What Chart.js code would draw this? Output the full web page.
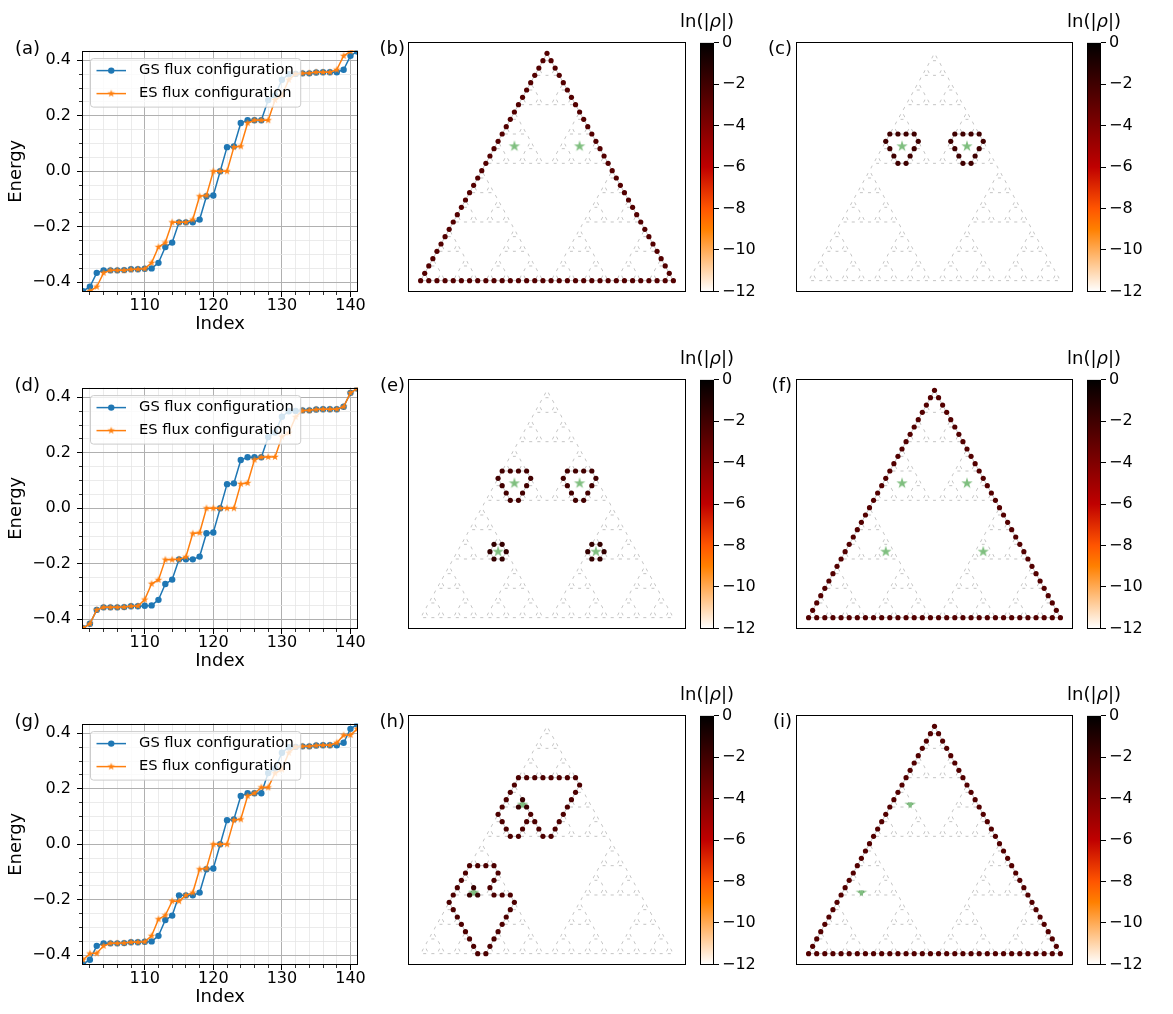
<!DOCTYPE html>
<html>
<head>
<meta charset="utf-8">
<script src="https://cdn.jsdelivr.net/npm/chart.js@4.4.1/dist/chart.umd.min.js"></script>
<style>
  html, body { margin: 0; padding: 0; background: #fff; }
  body { width: 1173px; height: 1014px; position: relative; overflow: hidden; font-family: "DejaVu Sans", sans-serif; }
  canvas { position: absolute; }
  .lbl { position: absolute; font-size: 18px; line-height: 18px; color: #000; white-space: nowrap; }
  .lbl i { font-style: italic; }
</style>
</head>
<body>
<script>
// ---------------- spectra (energy levels around zero) ----------------
const INDEX = [101,102,103,104,105,106,107,108,109,110,111,112,113,114,115,116,117,118,119,120,
               121,122,123,124,125,126,127,128,129,130,131,132,133,134,135,136,137,138,139,140,141];
const GS_ENERGY = [-0.432,-0.416,-0.366,-0.357,-0.357,-0.357,-0.356,-0.353,-0.353,-0.351,
                   -0.350,-0.330,-0.273,-0.257,-0.184,-0.184,-0.184,-0.174,-0.090,-0.087,
                    0.000, 0.087, 0.090, 0.174, 0.184, 0.184, 0.184, 0.257, 0.273, 0.330,
                    0.350, 0.351, 0.353, 0.353, 0.356, 0.357, 0.357, 0.357, 0.366, 0.416, 0.432];
const ES_ENERGY_A = [-0.445,-0.432,-0.416,-0.366,-0.357,-0.357,-0.357,-0.354,-0.353,-0.351,
                     -0.330,-0.273,-0.257,-0.184,-0.184,-0.184,-0.174,-0.090,-0.087, 0.000,
                      0.000, 0.000, 0.087, 0.090, 0.174, 0.184, 0.184, 0.184, 0.257, 0.273,
                      0.330, 0.351, 0.353, 0.354, 0.357, 0.357, 0.357, 0.366, 0.416, 0.432, 0.445];
const ES_ENERGY_D = [-0.432,-0.416,-0.366,-0.357,-0.357,-0.357,-0.356,-0.353,-0.352,-0.329,
                     -0.272,-0.258,-0.185,-0.185,-0.184,-0.175,-0.091,-0.088, 0.000, 0.000,
                      0.000, 0.000, 0.000, 0.088, 0.091, 0.175, 0.184, 0.185, 0.185, 0.258,
                      0.272, 0.329, 0.352, 0.353, 0.356, 0.357, 0.357, 0.357, 0.366, 0.416, 0.432];
const ES_ENERGY_G = [-0.416,-0.394,-0.393,-0.366,-0.357,-0.357,-0.356,-0.353,-0.353,-0.351,
                     -0.330,-0.270,-0.256,-0.205,-0.205,-0.184,-0.174,-0.090,-0.087, 0.000,
                      0.000, 0.000, 0.087, 0.090, 0.174, 0.184, 0.205, 0.205, 0.256, 0.270,
                      0.330, 0.351, 0.353, 0.353, 0.356, 0.357, 0.357, 0.366, 0.393, 0.394, 0.416];
const SERIES_LABELS = ['GS flux configuration', 'ES flux configuration'];
const X_RANGE = [100.85, 141.1];
const Y_RANGE = [-0.435, 0.435];
const X_MAJOR = [110, 120, 130, 140];
const X_MINOR = [102,104,106,108,112,114,116,118,122,124,126,128,132,134,136,138];
const Y_MAJOR = [-0.4, -0.2, 0, 0.2, 0.4];
const Y_MINOR = [-0.35,-0.3,-0.25,-0.15,-0.1,-0.05,0.05,0.1,0.15,0.25,0.3,0.35];

// ---------------- densities ln(|rho|) on the level-5 Sierpinski (Hanoi) lattice ----------------
// sites are given as (x, row); flux positions are plaquette centres in the same units
const LN_FLOOR = -12;
const CB_MIN = -12, CB_MAX = 0;
const CB_TICKS = [0, -2, -4, -6, -8, -10, -12];

const FLUX_BC = [[11.5, 18.33], [19.5, 18.33]];
const FLUX_EF = [[11.5, 18.33], [19.5, 18.33], [9.5, 9], [21.5, 9]];
const FLUX_HI = [[12.5, 20.33], [6.5, 8.33]];

const RINGS_LARGE = [[11,16],[10.5,17],[10,18],[9.5,19],[12,16],[12.5,17],[13,18],[13.5,19],[10,20],[11,20],[12,20],[13,20],
                     [19,16],[18.5,17],[18,18],[17.5,19],[20,16],[20.5,17],[21,18],[21.5,19],[18,20],[19,20],[20,20],[21,20]];
const RINGS_SMALL = [[9,8],[8.5,9],[10,8],[10.5,9],[9,10],[10,10],
                     [21,8],[20.5,9],[22,8],[22.5,9],[21,10],[22,10]];
const LOOPS_H = [[12,24],[13,24],[14,24],[15,24],[16,24],[17,24],[18,24],[19,24],
                 [19.5,23],[19,22],[18.5,21],[18,20],[17.5,19],[17,18],[16.5,17],[16,16],
                 [15,16],[14.5,17],[14,18],[13.5,19],[13,18],[12.5,17],[12,16],
                 [11,16],[10.5,17],[10,18],[9.5,19],[10,20],[10.5,21],[11,22],[11.5,23],
                 [6,12],[7,12],[8,12],[9,12],[9.5,11],[9,10],[8.5,9],[9,8],[10,8],[11,8],
                 [11.5,7],[11,6],[10.5,5],[10,4],[9.5,3],[9,2],[8.5,1],[8,0],
                 [7,0],[6.5,1],[6,2],[5.5,3],[5,4],[4.5,5],[4,6],[3.5,7],
                 [4,8],[4.5,9],[5,10],[5.5,11]];
const CORES_H = [[12,20],[13,20],[12.5,21],[6,8],[7,8],[6.5,9]];

const LNRHO_EDGE_B = -2.6;
const LNRHO_RING_C = -2.0;
const LNRHO_RING_E = -2.1, LNRHO_SMALL_E = -1.6;
const LNRHO_EDGE_F = -2.6;
const LNRHO_LOOP_H = -2.4, LNRHO_CORE_H = -1.8;
const LNRHO_EDGE_I = -2.6;

// ---------------- page layout ----------------
const ROW_TOP = [42, 379, 715];
const BOX_H = 250;
const LINE_LEFT = 82, LINE_W = 279;
const MAP_LEFT = [408, 796], MAP_W = [278, 277];
const CB_LEFT = [700, 1087], CB_W = 14;
const LABEL_RIGHT = [40, 405, 792];
const MAP_RANGE = [-1.55, 32.55];

const BLUE = '#1f77b4', ORANGE = '#ff7f0e';
const GRID_MAJOR = '#b0b0b0', GRID_MINOR = '#e6e6e6';
const BOND_COLOR = '#c4c4c4';
const FONT = '"DejaVu Sans", sans-serif';

Chart.defaults.font.family = FONT;
Chart.defaults.color = '#000';
Chart.defaults.animation = false;

const minus = s => String(s).replace('-', '\u2212');

function addCanvas(left, top, w, h) {
  const c = document.createElement('canvas');
  c.width = w; c.height = h;
  c.style.left = left + 'px'; c.style.top = top + 'px';
  c.style.width = w + 'px'; c.style.height = h + 'px';
  document.body.appendChild(c);
  return c;
}
function addText(html, css) {
  const d = document.createElement('div');
  d.className = 'lbl';
  d.innerHTML = html;
  Object.assign(d.style, css);
  document.body.appendChild(d);
}
function starSprite(outerR, fill) {
  const s = Math.ceil(outerR * 2) + 2;
  const c = document.createElement('canvas');
  c.width = c.height = s;
  const g = c.getContext('2d');
  g.beginPath();
  for (let i = 0; i < 10; i++) {
    const r = i % 2 ? outerR * 0.382 : outerR;
    const a = -Math.PI / 2 + i * Math.PI / 5;
    g.lineTo(s / 2 + r * Math.cos(a), s / 2 + r * Math.sin(a));
  }
  g.closePath();
  g.fillStyle = fill;
  g.fill();
  return c;
}
const STAR_ORANGE = starSprite(4, ORANGE);
const STAR_GREEN = starSprite(6, 'rgba(0,128,0,0.5)');

// reversed "gist_heat" colour map on [CB_MIN, CB_MAX]
function heatRGB(v) {
  let t = (v - CB_MIN) / (CB_MAX - CB_MIN);
  t = Math.min(1, Math.max(0, t));
  const x = 1 - t;
  const r = Math.min(1, 1.5 * x), g = Math.min(1, Math.max(0, 2 * x - 1)), b = Math.min(1, Math.max(0, 4 * x - 3));
  return 'rgb(' + Math.round(r * 255) + ',' + Math.round(g * 255) + ',' + Math.round(b * 255) + ')';
}
// values where the colour map changes slope
const CMAP_KNOTS = [-12, -9, -8, -6, 0];

// ---------------- lattice ----------------
function buildHanoi(level) {
  const sites = [], index = new Map(), bonds = [];
  const key = (x, r) => (2 * x) + ':' + r;
  const site = (x, r) => {
    const k = key(x, r);
    if (!index.has(k)) { index.set(k, sites.length); sites.push({ x, r }); }
    return index.get(k);
  };
  function build(n, x0, r0) {
    if (n === 1) {
      const a = site(x0, r0), b = site(x0 + 1, r0), c = site(x0 + 0.5, r0 + 1);
      bonds.push([a, b], [b, c], [c, a]);
      return;
    }
    const L = Math.pow(2, n - 1) - 1, s = L + 1;
    build(n - 1, x0, r0);
    build(n - 1, x0 + s, r0);
    build(n - 1, x0 + s / 2, r0 + s);
    bonds.push([site(x0 + L, r0), site(x0 + s, r0)]);
    bonds.push([site(x0 + L / 2, r0 + L), site(x0 + s / 2, r0 + s)]);
    bonds.push([site(x0 + s + L / 2, r0 + L), site(x0 + s / 2 + L, r0 + s)]);
  }
  build(level, 0, 0);
  const side = Math.pow(2, level) - 1;
  return {
    sites, bonds, side,
    find: (x, r) => { const i = index.get(key(x, r)); return i === undefined ? -1 : i; }
  };
}
const LATTICE = buildHanoi(5);
const OUTER_EDGE = LATTICE.sites
  .filter(s => s.r === 0 || 2 * s.x === s.r || 2 * s.x === 2 * LATTICE.side - s.r)
  .map(s => [s.x, s.r]);

// ---------------- plugins ----------------
const framePlugin = {
  id: 'frame',
  afterDraw(chart) {
    const { ctx, chartArea: a } = chart;
    ctx.save();
    ctx.strokeStyle = '#000';
    ctx.lineWidth = 1;
    ctx.strokeRect(Math.round(a.left) + 0.5, Math.round(a.top) + 0.5,
                   Math.round(a.right - a.left) - 1, Math.round(a.bottom - a.top) - 1);
    ctx.restore();
  }
};
const tickMarksPlugin = {
  id: 'tickMarks',
  afterDraw(chart) {
    const { ctx, chartArea: a, scales } = chart;
    const al = p => Math.round(p - 0.5) + 0.5;
    ctx.save();
    ctx.strokeStyle = '#000';
    const xm = (list, len, w) => list.forEach(v => {
      const p = al(scales.x.getPixelForValue(v));
      ctx.lineWidth = w; ctx.beginPath(); ctx.moveTo(p, a.bottom); ctx.lineTo(p, a.bottom + len); ctx.stroke();
    });
    const ym = (list, len, w) => list.forEach(v => {
      const p = al(scales.y.getPixelForValue(v));
      ctx.lineWidth = w; ctx.beginPath(); ctx.moveTo(a.left, p); ctx.lineTo(a.left - len, p); ctx.stroke();
    });
    xm(X_MAJOR, 5, 1); xm(X_MINOR, 3, 0.8);
    ym(Y_MAJOR, 5, 1); ym(Y_MINOR, 3, 0.8);
    ctx.restore();
  }
};
const energyLegendPlugin = {
  id: 'energyLegend',
  afterDatasetsDraw(chart) {
    const { ctx, chartArea: a } = chart;
    const items = [
      { label: SERIES_LABELS[0], color: BLUE, marker: 'circle' },
      { label: SERIES_LABELS[1], color: ORANGE, marker: 'star' }
    ];
    ctx.save();
    ctx.font = '14.7px ' + FONT;
    const tw = Math.max(...items.map(it => ctx.measureText(it.label).width));
    const bx = a.left + 8.5, by = a.top + 8, tx = a.left + 57;
    const bw = tx + tw + 7 - bx, bh = 48.5, rr = 3;
    ctx.beginPath();
    ctx.moveTo(bx + rr, by);
    ctx.arcTo(bx + bw, by, bx + bw, by + bh, rr);
    ctx.arcTo(bx + bw, by + bh, bx, by + bh, rr);
    ctx.arcTo(bx, by + bh, bx, by, rr);
    ctx.arcTo(bx, by, bx + bw, by, rr);
    ctx.closePath();
    ctx.fillStyle = 'rgba(255,255,255,0.8)';
    ctx.fill();
    ctx.strokeStyle = '#cccccc';
    ctx.lineWidth = 1;
    ctx.stroke();
    items.forEach((it, k) => {
      const cy = a.top + 20 + 23 * k;
      const x1 = a.left + 14.5, x2 = a.left + 44, xc = (x1 + x2) / 2;
      ctx.strokeStyle = it.color; ctx.lineWidth = 1.5;
      ctx.beginPath(); ctx.moveTo(x1, cy); ctx.lineTo(x2, cy); ctx.stroke();
      if (it.marker === 'circle') {
        ctx.fillStyle = it.color; ctx.beginPath(); ctx.arc(xc, cy, 3.2, 0, Math.PI * 2); ctx.fill();
      } else {
        ctx.drawImage(STAR_ORANGE, xc - STAR_ORANGE.width / 2, cy - STAR_ORANGE.height / 2);
      }
      ctx.fillStyle = '#000';
      ctx.textBaseline = 'middle';
      ctx.textAlign = 'left';
      ctx.fillText(it.label, tx, cy);
    });
    ctx.restore();
  }
};

// ---------------- charts ----------------
const xy = (xs, ys) => xs.map((x, i) => ({ x, y: ys[i] }));

function energyChart(row, esValues) {
  const top = ROW_TOP[row];
  const padTop = 12, axisH = 46, canvasW = 370;
  const cv = addCanvas(0, top - padTop, canvasW, padTop + BOX_H + axisH);
  const xTicks = X_MAJOR.concat(X_MINOR).sort((p, q) => p - q);
  const yTicks = Y_MAJOR.concat(Y_MINOR).sort((p, q) => p - q);
  new Chart(cv, {
    type: 'line',
    data: {
      datasets: [
        { label: SERIES_LABELS[1], data: xy(INDEX, esValues), borderColor: ORANGE, backgroundColor: ORANGE,
          borderWidth: 1.5, pointStyle: STAR_ORANGE, pointRadius: 3, order: 0, clip: 0 },
        { label: SERIES_LABELS[0], data: xy(INDEX, GS_ENERGY), borderColor: BLUE, backgroundColor: BLUE,
          borderWidth: 1.5, pointStyle: 'circle', pointRadius: 3.2, pointBorderWidth: 0,
          pointBackgroundColor: BLUE, order: 1, clip: 0 }
      ]
    },
    options: {
      responsive: false, animation: false, events: [],
      layout: { autoPadding: false, padding: { left: 0, top: padTop, right: canvasW - LINE_LEFT - LINE_W, bottom: 0 } },
      plugins: { legend: { display: false }, tooltip: { enabled: false } },
      scales: {
        x: {
          type: 'linear', min: X_RANGE[0], max: X_RANGE[1],
          afterFit: s => { s.height = axisH; },
          afterBuildTicks: s => { s.ticks = xTicks.map(v => ({ value: v })); },
          grid: { color: c => (c.tick && X_MAJOR.includes(c.tick.value)) ? GRID_MAJOR : GRID_MINOR,
                  lineWidth: c => (c.tick && X_MAJOR.includes(c.tick.value)) ? 1 : 0.8, drawTicks: false },
          border: { display: false },
          ticks: { autoSkip: false, maxRotation: 0, minRotation: 0, padding: 4, color: '#000', font: { size: 16 },
                   callback: v => X_MAJOR.includes(v) ? String(v) : '' },
          title: { display: true, text: 'Index', color: '#000', font: { size: 18 }, padding: { top: 0, bottom: 3 } }
        },
        y: {
          type: 'linear', min: Y_RANGE[0], max: Y_RANGE[1],
          afterFit: s => { s.width = LINE_LEFT; },
          afterBuildTicks: s => { s.ticks = yTicks.map(v => ({ value: v })); },
          grid: { color: c => (c.tick && Y_MAJOR.includes(c.tick.value)) ? GRID_MAJOR : GRID_MINOR,
                  lineWidth: c => (c.tick && Y_MAJOR.includes(c.tick.value)) ? 1 : 0.8, drawTicks: false },
          border: { display: false },
          ticks: { autoSkip: false, padding: 11, color: '#000', font: { size: 16 },
                   callback: v => Y_MAJOR.includes(v) ? minus(v.toFixed(1)) : '' },
          title: { display: true, text: 'Energy', color: '#000', font: { size: 18 }, padding: { top: 6, bottom: 0 } }
        }
      }
    },
    plugins: [framePlugin, tickMarksPlugin, energyLegendPlugin]
  });
}

function latticeChart(row, col, groups, flux) {
  const left = MAP_LEFT[col], top = ROW_TOP[row], w = MAP_W[col];
  const cv = addCanvas(left - 2, top - 2, w + 4, BOX_H + 4);
  const lnRho = LATTICE.sites.map(() => LN_FLOOR);
  groups.forEach(([list, value]) => list.forEach(([x, r]) => {
    const i = LATTICE.find(x, r);
    if (i >= 0) lnRho[i] = value; else console.warn('no site at', x, r);
  }));
  const bondData = [];
  LATTICE.bonds.forEach(([a, b]) => {
    const p = LATTICE.sites[a], q = LATTICE.sites[b];
    bondData.push({ x: p.x, y: p.r }, { x: q.x, y: q.r }, { x: NaN, y: NaN });
  });
  new Chart(cv, {
    type: 'scatter',
    data: {
      datasets: [
        { data: LATTICE.sites.map(s => ({ x: s.x, y: s.r })), pointRadius: 2.6, pointBorderWidth: 0,
          pointBackgroundColor: lnRho.map(heatRGB), order: 0 },
        { data: flux.map(([x, r]) => ({ x, y: r })), pointStyle: STAR_GREEN, pointRadius: 4, order: 1 },
        { data: bondData, showLine: true, pointRadius: 0, borderColor: BOND_COLOR, borderWidth: 1,
          spanGaps: false, order: 2 }
      ]
    },
    options: {
      responsive: false, animation: false, events: [],
      layout: { autoPadding: false, padding: 2 },
      plugins: { legend: { display: false }, tooltip: { enabled: false } },
      scales: {
        x: { type: 'linear', display: false, min: MAP_RANGE[0], max: MAP_RANGE[1] },
        y: { type: 'linear', display: false, min: MAP_RANGE[0], max: MAP_RANGE[1] }
      }
    },
    plugins: [framePlugin]
  });
}

function heatGradient(c) {
  const ca = c.chart.chartArea;
  if (!ca) return '#000';
  const g = c.chart.ctx.createLinearGradient(0, ca.bottom, 0, ca.top);
  CMAP_KNOTS.forEach(v => g.addColorStop((v - CB_MIN) / (CB_MAX - CB_MIN), heatRGB(v)));
  return g;
}

function colorbarChart(row, col) {
  const left = CB_LEFT[col], top = ROW_TOP[row];
  const padV = 12, cw = 64;
  const cv = addCanvas(left - 2, top - padV, cw, BOX_H + 2 * padV);
  new Chart(cv, {
    type: 'bar',
    data: { labels: ['ln(|\u03c1|)'], datasets: [{ data: [[CB_MIN, CB_MAX]], backgroundColor: heatGradient,
            borderWidth: 0, barPercentage: 1, categoryPercentage: 1 }] },
    options: {
      responsive: false, animation: false, events: [],
      layout: { autoPadding: false, padding: { left: 2, right: 0, top: padV, bottom: padV } },
      plugins: { legend: { display: false }, tooltip: { enabled: false } },
      scales: {
        x: { display: false },
        y: {
          position: 'right', min: CB_MIN, max: CB_MAX,
          afterFit: s => { s.width = cw - 2 - CB_W; },
          afterBuildTicks: s => { s.ticks = CB_TICKS.map(v => ({ value: v })); },
          grid: { drawOnChartArea: false, drawTicks: true, tickLength: 5, color: '#000', lineWidth: 1 },
          border: { display: false },
          ticks: { padding: 3, color: '#000', font: { size: 16 }, callback: v => minus(v) }
        }
      }
    },
    plugins: [framePlugin]
  });
  addText('ln(|<i>\u03c1</i>|)', { left: (left + CB_W / 2 - 50) + 'px', top: (top - 30.5) + 'px', width: '100px', textAlign: 'center' });
}

function panelLabel(text, row, col) {
  addText(text, { right: (1173 - LABEL_RIGHT[col]) + 'px', top: (ROW_TOP[row] - 3.5) + 'px' });
}

// row 1
energyChart(0, ES_ENERGY_A);
latticeChart(0, 0, [[OUTER_EDGE, LNRHO_EDGE_B]], FLUX_BC);
latticeChart(0, 1, [[RINGS_LARGE, LNRHO_RING_C]], FLUX_BC);
// row 2
energyChart(1, ES_ENERGY_D);
latticeChart(1, 0, [[RINGS_LARGE, LNRHO_RING_E], [RINGS_SMALL, LNRHO_SMALL_E]], FLUX_EF);
latticeChart(1, 1, [[OUTER_EDGE, LNRHO_EDGE_F]], FLUX_EF);
// row 3
energyChart(2, ES_ENERGY_G);
latticeChart(2, 0, [[LOOPS_H, LNRHO_LOOP_H], [CORES_H, LNRHO_CORE_H]], FLUX_HI);
latticeChart(2, 1, [[OUTER_EDGE, LNRHO_EDGE_I]], FLUX_HI);

for (let r = 0; r < 3; r++) { colorbarChart(r, 0); colorbarChart(r, 1); }

const LETTERS = [['(a)', '(b)', '(c)'], ['(d)', '(e)', '(f)'], ['(g)', '(h)', '(i)']];
LETTERS.forEach((rowL, r) => rowL.forEach((t, c) => panelLabel(t, r, c)));
</script>
</body>
</html>
